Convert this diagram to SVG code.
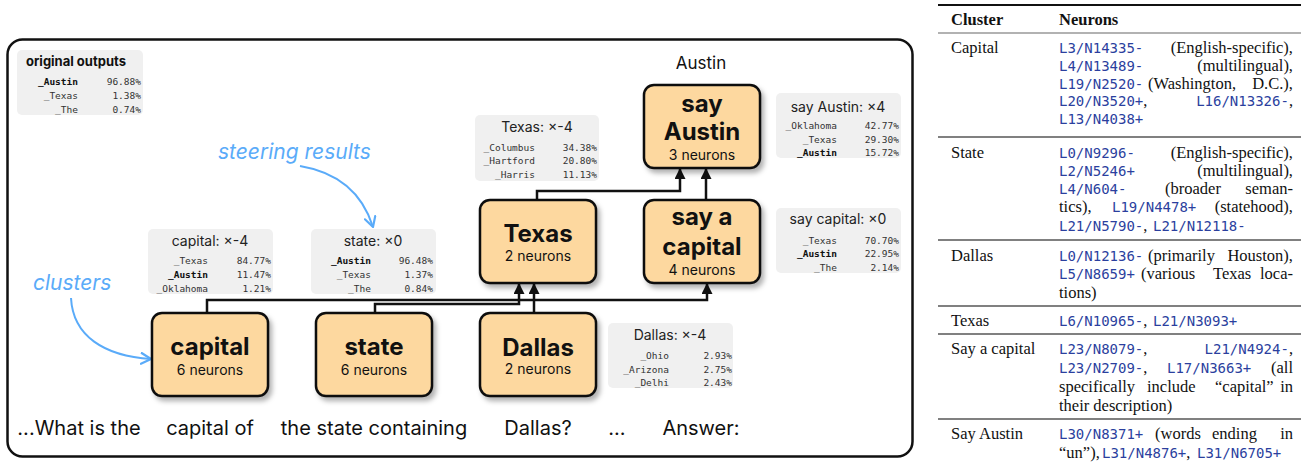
<svg xmlns="http://www.w3.org/2000/svg" width="1308" height="462" viewBox="0 0 1308 462">
<defs>
<filter id="sh" x="-20%" y="-20%" width="150%" height="150%">
<feDropShadow dx="3" dy="4" stdDeviation="2.5" flood-color="#000" flood-opacity="0.3"/>
</filter>
<marker id="ah" viewBox="0 0 10 10" refX="10" refY="5" markerWidth="12" markerHeight="11" markerUnits="userSpaceOnUse" orient="auto">
<path d="M0,0 L10,5 L0,10 z" fill="#111"/>
</marker>
<marker id="bh" viewBox="0 0 12 12" refX="10" refY="6" markerWidth="13" markerHeight="13" markerUnits="userSpaceOnUse" orient="auto">
<path d="M1,1 L10,6 L1,11" fill="none" stroke="#5aabf9" stroke-width="2" stroke-linecap="round" stroke-linejoin="round"/>
</marker>
<style>
.frame{fill:#fff;stroke:#111;stroke-width:2.5}
.node rect{fill:#fdd89f;stroke:#111;stroke-width:2.5;filter:url(#sh)}
.nt{font-family:Inter,"Noto Sans","Liberation Sans",sans-serif;font-weight:700;font-size:24px;text-anchor:middle;fill:#111}
.ns{font-family:Inter,"Noto Sans","Liberation Sans",sans-serif;font-size:14px;text-anchor:middle;fill:#111}
.sbox rect{fill:#f0f0f0}
.st{font-family:Inter,"Noto Sans","Liberation Sans",sans-serif;font-size:14px;text-anchor:middle;fill:#222}
.m{font-family:"DejaVu Sans Mono","Liberation Mono",monospace;font-size:9.5px;text-anchor:end;fill:#333}
.mb{font-weight:700;fill:#111}
.conn path{fill:none;stroke:#111;stroke-width:2.5;marker-end:url(#ah)}
.blue{fill:none;stroke:#5aabf9;stroke-width:2;marker-end:url(#bh)}
.bt{font-family:Inter,"Noto Sans","Liberation Sans",sans-serif;font-style:italic;font-size:21px;fill:#5aabf9}
.tok{font-family:Inter,"Noto Sans","Liberation Sans",sans-serif;font-size:20px;text-anchor:middle;fill:#111}
.tb{font-family:"Liberation Serif","Times New Roman",serif;font-size:16.5px;fill:#111}
.th{font-weight:700}
.tm{font-family:"DejaVu Sans Mono","Liberation Mono",monospace;font-size:14px;fill:#2b3f9e}
.e{text-anchor:end}
.rule{stroke:#808080;stroke-width:1.8}
</style>
</defs>

<rect class="frame" x="7.5" y="39.5" width="905" height="417" rx="15"/>

<!-- original outputs -->
<g id="original-outputs" class="sbox">
<rect x="17" y="50" width="126" height="65" rx="5"/>
<text x="26" y="66" style="font-family:Inter,'Noto Sans',sans-serif;font-weight:700;font-size:13px;fill:#111">original outputs</text>
<text class="m mb" x="78" y="85">_Austin</text><text class="m" x="141" y="85">96.88%</text>
<text class="m" x="78" y="99">_Texas</text><text class="m" x="141" y="99">1.38%</text>
<text class="m" x="78" y="112.5">_The</text><text class="m" x="141" y="112.5">0.74%</text>
</g>

<text class="tok" x="701" y="69" style="font-size:17px">Austin</text>

<!-- connectors -->
<g id="connectors" class="conn">
<path d="M207,313 V300 H707 V283"/>
<path d="M375,313 V304 H519 V283"/>
<path d="M534,313 V283"/>
<path d="M537,200 V191 H680 V168"/>
<path d="M706,200 V168"/>
</g>

<!-- annotations -->
<g id="annotations">
<text class="bt" x="218" y="159">steering results</text>
<path class="blue" d="M300,166 C336,172 362,192 373,227"/>
<text class="bt" x="33" y="290">clusters</text>
<path class="blue" d="M71,298 C73,336 104,356 151,359"/>
</g>

<!-- nodes -->
<g id="node-capital" class="node">
<rect x="152" y="313" width="116" height="83" rx="10"/>
<text class="nt" x="210" y="355">capital</text>
<text class="ns" x="210" y="375">6 neurons</text>
</g>
<g id="node-state" class="node">
<rect x="316" y="313" width="116" height="83" rx="10"/>
<text class="nt" x="374" y="355">state</text>
<text class="ns" x="374" y="375">6 neurons</text>
</g>
<g id="node-dallas" class="node">
<rect x="480" y="313" width="116" height="83" rx="10"/>
<text class="nt" x="538" y="355.5">Dallas</text>
<text class="ns" x="538" y="374">2 neurons</text>
</g>
<g id="node-texas" class="node">
<rect x="480" y="200" width="116" height="83" rx="10"/>
<text class="nt" x="538" y="241.5">Texas</text>
<text class="ns" x="538" y="261">2 neurons</text>
</g>
<g id="node-say-a-capital" class="node">
<rect x="644" y="200" width="116" height="83" rx="10"/>
<text class="nt" x="702" y="224.5">say a</text>
<text class="nt" x="702" y="254.5">capital</text>
<text class="ns" x="702" y="275">4 neurons</text>
</g>
<g id="node-say-austin" class="node">
<rect x="644" y="85" width="116" height="83" rx="10"/>
<text class="nt" x="702" y="112">say</text>
<text class="nt" x="702" y="139.5">Austin</text>
<text class="ns" x="702" y="160">3 neurons</text>
</g>

<!-- steering result boxes -->
<g id="steer-capital" class="sbox">
<rect x="148" y="229" width="125" height="65" rx="5"/>
<text class="st" x="210" y="246">capital: ×-4</text>
<text class="m" x="208" y="264">_Texas</text><text class="m" x="271" y="264">84.77%</text>
<text class="m mb" x="208" y="278">_Austin</text><text class="m" x="271" y="278">11.47%</text>
<text class="m" x="208" y="291.5">_Oklahoma</text><text class="m" x="271" y="291.5">1.21%</text>
</g>
<g id="steer-state" class="sbox">
<rect x="311" y="229" width="125" height="65" rx="5"/>
<text class="st" x="373" y="246">state: ×0</text>
<text class="m mb" x="371" y="264">_Austin</text><text class="m" x="433" y="264">96.48%</text>
<text class="m" x="371" y="278">_Texas</text><text class="m" x="433" y="278">1.37%</text>
<text class="m" x="371" y="291.5">_The</text><text class="m" x="433" y="291.5">0.84%</text>
</g>
<g id="steer-texas" class="sbox">
<rect x="475" y="115" width="124" height="66" rx="5"/>
<text class="st" x="537" y="132">Texas: ×-4</text>
<text class="m" x="535" y="150.5">_Columbus</text><text class="m" x="597" y="150.5">34.38%</text>
<text class="m" x="535" y="164">_Hartford</text><text class="m" x="597" y="164">20.80%</text>
<text class="m" x="535" y="178">_Harris</text><text class="m" x="597" y="178">11.13%</text>
</g>
<g id="steer-say-austin" class="sbox">
<rect x="776" y="93" width="125" height="65" rx="5"/>
<text class="st" x="838" y="112">say Austin: ×4</text>
<text class="m" x="837" y="128.5">_Oklahoma</text><text class="m" x="899" y="128.5">42.77%</text>
<text class="m" x="837" y="142.5">_Texas</text><text class="m" x="899" y="142.5">29.30%</text>
<text class="m mb" x="837" y="156">_Austin</text><text class="m" x="899" y="156">15.72%</text>
</g>
<g id="steer-say-capital" class="sbox">
<rect x="776" y="208" width="125" height="65" rx="5"/>
<text class="st" x="838" y="224">say capital: ×0</text>
<text class="m" x="837" y="243.5">_Texas</text><text class="m" x="899" y="243.5">70.70%</text>
<text class="m mb" x="837" y="257">_Austin</text><text class="m" x="899" y="257">22.95%</text>
<text class="m" x="837" y="270.5">_The</text><text class="m" x="899" y="270.5">2.14%</text>
</g>
<g id="steer-dallas" class="sbox">
<rect x="608" y="323" width="125" height="65" rx="5"/>
<text class="st" x="670" y="340">Dallas: ×-4</text>
<text class="m" x="669" y="358.5">_Ohio</text><text class="m" x="732" y="358.5">2.93%</text>
<text class="m" x="669" y="372.5">_Arizona</text><text class="m" x="732" y="372.5">2.75%</text>
<text class="m" x="669" y="386">_Delhi</text><text class="m" x="732" y="386">2.43%</text>
</g>

<!-- prompt tokens -->
<g id="tokens">
<text class="tok" x="79" y="435">...What is the</text>
<text class="tok" x="210" y="435">capital of</text>
<text class="tok" x="374" y="435">the state containing</text>
<text class="tok" x="538" y="435">Dallas?</text>
<text class="tok" x="617" y="435">...</text>
<text class="tok" x="701" y="435">Answer:</text>
</g>

<!-- table -->
<g id="table">
<line x1="938" y1="5" x2="1301" y2="5" stroke="#111" stroke-width="1.8"/>
<line x1="938" y1="33" x2="1301" y2="33" stroke="#666" stroke-width="1.1"/>
<line class="rule" x1="938" y1="137" x2="1301" y2="137"/>
<line class="rule" x1="938" y1="240" x2="1301" y2="240"/>
<line class="rule" x1="938" y1="306" x2="1301" y2="306"/>
<line class="rule" x1="938" y1="334" x2="1301" y2="334"/>
<line class="rule" x1="938" y1="419" x2="1301" y2="419"/>

<text class="tb th" x="951" y="25">Cluster</text>
<text class="tb th" x="1059" y="25">Neurons</text>

<text class="tb" x="951" y="53">Capital</text>
<text class="tm" x="1059" y="53">L3/N14335-</text><text class="tb e" x="1293" y="53">(English-specific),</text>
<text class="tm" x="1059" y="71">L4/N13489-</text><text class="tb e" x="1293" y="71">(multilingual),</text>
<text class="tm" x="1059" y="88.5">L19/N2520-</text><text class="tb" x="1148" y="88.5">(Washington,</text><text class="tb e" x="1293" y="88.5">D.C.),</text>
<text class="tb" x="1059" y="106"><tspan class="tm">L20/N3520+</tspan>,</text><text class="tb e" x="1293" y="106"><tspan class="tm">L16/N13326-</tspan>,</text>
<text class="tm" x="1059" y="124">L13/N4038+</text>

<text class="tb" x="951" y="158">State</text>
<text class="tm" x="1059" y="158">L0/N9296-</text><text class="tb e" x="1293" y="158">(English-specific),</text>
<text class="tm" x="1059" y="176">L2/N5246+</text><text class="tb e" x="1293" y="176">(multilingual),</text>
<text class="tm" x="1059" y="194">L4/N604-</text><text class="tb" x="1165" y="194">(broader</text><text class="tb e" x="1293" y="194">seman-</text>
<text class="tb" x="1059" y="212">tics),</text><text class="tm" x="1112" y="212">L19/N4478+</text><text class="tb e" x="1293" y="212">(statehood),</text>
<text class="tb" x="1059" y="230.5"><tspan class="tm">L21/N5790-</tspan>,</text><text class="tm" x="1153" y="230.5">L21/N12118-</text>

<text class="tb" x="951" y="261">Dallas</text>
<text class="tm" x="1059" y="261">L0/N12136-</text><text class="tb" x="1148" y="261">(primarily</text><text class="tb e" x="1293" y="261">Houston),</text>
<text class="tm" x="1059" y="279">L5/N8659+</text><text class="tb" x="1141" y="279">(various</text><text class="tb" x="1213" y="279">Texas</text><text class="tb e" x="1293" y="279">loca-</text>
<text class="tb" x="1059" y="297.5">tions)</text>

<text class="tb" x="951" y="326">Texas</text>
<text class="tb" x="1059" y="326"><tspan class="tm">L6/N10965-</tspan>,</text><text class="tm" x="1153" y="326">L21/N3093+</text>

<text class="tb" x="951" y="354">Say a capital</text>
<text class="tb" x="1059" y="354"><tspan class="tm">L23/N8079-</tspan>,</text><text class="tb e" x="1293" y="354"><tspan class="tm">L21/N4924-</tspan>,</text>
<text class="tb" x="1059" y="373"><tspan class="tm">L23/N2709-</tspan>,</text><text class="tm" x="1167" y="373">L17/N3663+</text><text class="tb e" x="1293" y="373">(all</text>
<text class="tb" x="1059" y="392">specifically</text><text class="tb" x="1147" y="392">include</text><text class="tb" x="1215" y="392">“capital”</text><text class="tb e" x="1293" y="392">in</text>
<text class="tb" x="1059" y="411">their description)</text>

<text class="tb" x="951" y="439">Say Austin</text>
<text class="tm" x="1059" y="439">L30/N8371+</text><text class="tb" x="1155" y="439">(words</text><text class="tb" x="1212" y="439">ending</text><text class="tb e" x="1293" y="439">in</text>
<text class="tb" x="1059" y="457.5">“un”),</text><text class="tb" x="1102" y="457.5"><tspan class="tm">L31/N4876+</tspan>,</text><text class="tm" x="1197" y="457.5">L31/N6705+</text>
</g>
</svg>
